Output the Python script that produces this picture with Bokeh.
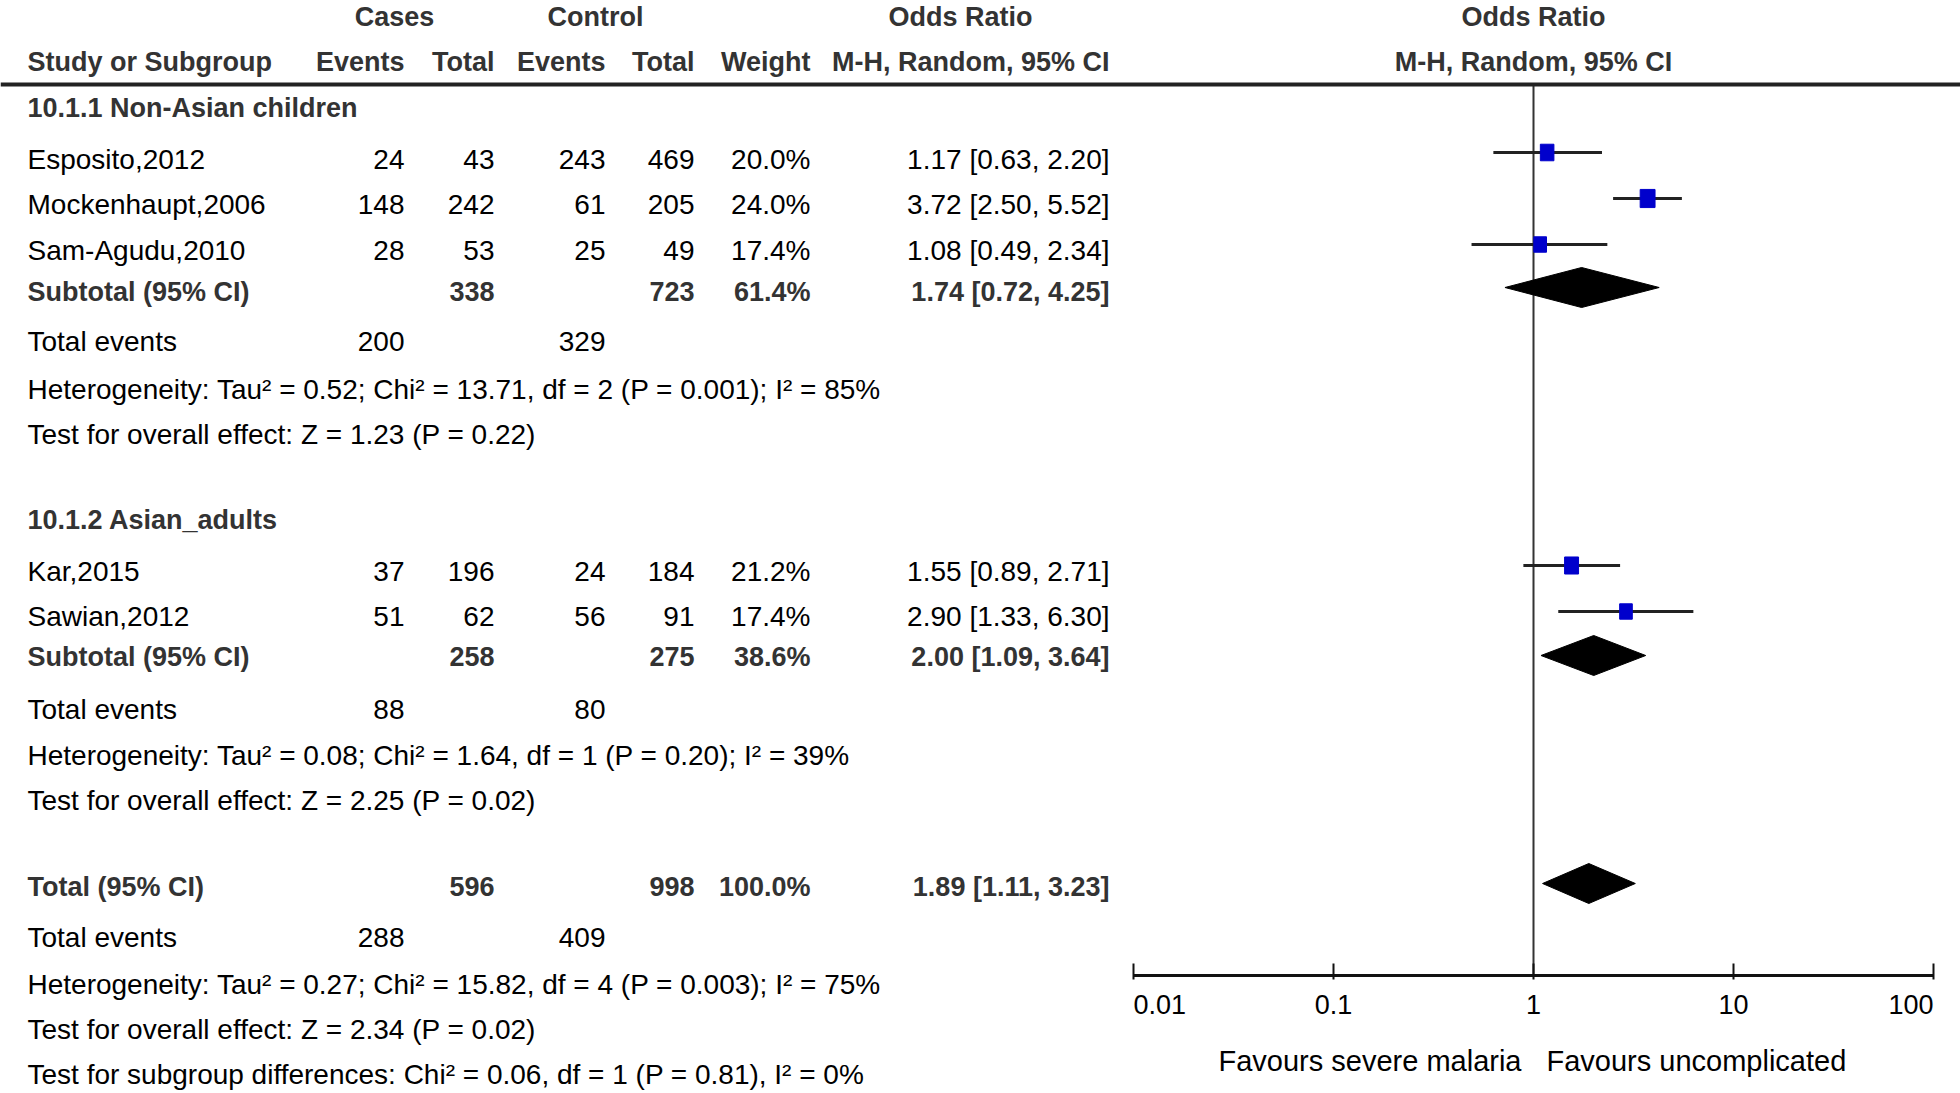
from bokeh.plotting import figure
from bokeh.models import Range1d, LinearScale, FixedTicker, Span
from bokeh.core.properties import value
from bokeh.embed import file_html
from bokeh.resources import INLINE

# ---------------- data ----------------
group_titles = ["10.1.1 Non-Asian children", "10.1.2 Asian_adults"]
studies = ["Esposito,2012", "Mockenhaupt,2006", "Sam-Agudu,2010", "Kar,2015", "Sawian,2012"]
cases_events = [24, 148, 28, 37, 51]
cases_total = [43, 242, 53, 196, 62]
control_events = [243, 61, 25, 24, 56]
control_total = [469, 205, 49, 184, 91]
weights = [20.0, 24.0, 17.4, 21.2, 17.4]
odds_ratio = [1.17, 3.72, 1.08, 1.55, 2.90]
ci_low = [0.63, 2.50, 0.49, 0.89, 1.33]
ci_high = [2.20, 5.52, 2.34, 2.71, 6.30]

summary_labels = ["Subtotal (95% CI)", "Subtotal (95% CI)", "Total (95% CI)"]
summary_cases_total = [338, 258, 596]
summary_control_total = [723, 275, 998]
summary_weight = [61.4, 38.6, 100.0]
summary_or = [1.74, 2.00, 1.89]
summary_low = [0.72, 1.09, 1.11]
summary_high = [4.25, 3.64, 3.23]
total_events_cases = [200, 88, 288]
total_events_control = [329, 80, 409]
heterogeneity = [
    "Heterogeneity: Tau² = 0.52; Chi² = 13.71, df = 2 (P = 0.001); I² = 85%",
    "Heterogeneity: Tau² = 0.08; Chi² = 1.64, df = 1 (P = 0.20); I² = 39%",
    "Heterogeneity: Tau² = 0.27; Chi² = 15.82, df = 4 (P = 0.003); I² = 75%",
]
overall_effect = [
    "Test for overall effect: Z = 1.23 (P = 0.22)",
    "Test for overall effect: Z = 2.25 (P = 0.02)",
    "Test for overall effect: Z = 2.34 (P = 0.02)",
]
subgroup_test = "Test for subgroup differences: Chi² = 0.06, df = 1 (P = 0.81), I² = 0%"
axis_ticks = [0.01, 0.1, 1, 10, 100]
axis_tick_labels = ["0.01", "0.1", "1", "10", "100"]
favours_left = "Favours severe malaria"
favours_right = "Favours uncomplicated"
null_effect = 1

# ---------------- layout (picture pixels) ----------------
W, H = 1960, 1093
OFF = 0
study_text_y = [159, 204, 250, 571, 616]
study_mark_y = [152, 198, 244, 565, 611]
summary_text_y = [291, 656, 886]
summary_mark_y = [287, 655, 883]
total_events_y = [341, 709, 937]
het_y = [389, 755, 984]
overall_y = [434, 800, 1029]
subgroup_y = 1074
group_title_y = [107, 519]
header1_y, header2_y = 16, 61
header_line_y = 84
axis_y = 975
tick_label_y = 1004
favours_y = 1060
diamond_half = 20

x_name = 27
x_ev1, x_tot1, x_ev2, x_tot2, x_wt, x_or = 404, 494, 605, 694, 810, 1109
x_cases, x_control, x_ortitle = 394, 595, 960

px_per_decade = 200.0
x_one = 1533
log_lo = (OFF - x_one) / px_per_decade
log_hi = (OFF + W - x_one) / px_per_decade

FONT = value("Liberation Sans")
NORMAL = "28px"
BOLD = "27px"
BOLD_COLOR = "#333333"

p = figure(width=W, height=H, output_backend="svg", toolbar_location=None,
           x_axis_type="log", x_range=Range1d(10 ** log_lo, 10 ** log_hi),
           y_range=Range1d(OFF + H, OFF),
           extra_x_ranges={"tab": Range1d(OFF, OFF + W)},
           extra_x_scales={"tab": LinearScale()},
           y_axis_location=None, min_border=0)
p.outline_line_color = None
p.xgrid.visible = False
p.ygrid.visible = False
p.background_fill_color = "white"

# axis: real log axis fixed at the axis row
ax = p.xaxis[0]
ax.fixed_location = axis_y
ax.bounds = (axis_ticks[0], axis_ticks[-1])
ax.ticker = FixedTicker(ticks=axis_ticks, minor_ticks=[])
ax.axis_line_width = 3
ax.axis_line_color = "#111111"
ax.major_tick_line_width = 2
ax.major_tick_line_color = "#111111"
ax.major_tick_in = 12
ax.major_tick_out = 4
ax.minor_tick_line_color = None
ax.major_label_text_color = None


def txt(x, y, t, align="left", bold=False, rng="tab", color=None, x_offset=0, size=None):
    kw = dict(x=x, y=y, text=t, text_align=align, text_baseline="middle",
              text_font=FONT,
              text_font_size=size or (BOLD if bold else NORMAL),
              text_font_style="bold" if bold else "normal",
              text_color=color or (BOLD_COLOR if bold else "black"),
              x_offset=x_offset)
    if rng == "tab":
        kw["x_range_name"] = "tab"
    p.text(**kw)


# header
txt([x_cases], [header1_y], ["Cases"], "center", True)
txt([x_control], [header1_y], ["Control"], "center", True)
txt([x_ortitle], [header1_y], ["Odds Ratio"], "center", True)
txt([null_effect], [header1_y], ["Odds Ratio"], "center", True, rng="main")
txt([x_name], [header2_y], ["Study or Subgroup"], "left", True)
txt([x_ev1, x_ev2], [header2_y] * 2, ["Events", "Events"], "right", True)
txt([x_tot1, x_tot2], [header2_y] * 2, ["Total", "Total"], "right", True)
txt([x_wt], [header2_y], ["Weight"], "right", True)
txt([x_or], [header2_y], ["M-H, Random, 95% CI"], "right", True)
txt([null_effect], [header2_y], ["M-H, Random, 95% CI"], "center", True, rng="main")

p.add_layout(Span(location=header_line_y, dimension="width", line_color="#222222", line_width=4))

# group titles
txt([x_name] * 2, group_title_y, group_titles, "left", True)

# study rows
n = len(studies)
txt([x_name] * n, study_text_y, studies, "left")
txt([x_ev1] * n, study_text_y, [str(v) for v in cases_events], "right")
txt([x_tot1] * n, study_text_y, [str(v) for v in cases_total], "right")
txt([x_ev2] * n, study_text_y, [str(v) for v in control_events], "right")
txt([x_tot2] * n, study_text_y, [str(v) for v in control_total], "right")
txt([x_wt] * n, study_text_y, [f"{w:.1f}%" for w in weights], "right")
txt([x_or] * n, study_text_y,
    [f"{o:.2f} [{l:.2f}, {h:.2f}]" for o, l, h in zip(odds_ratio, ci_low, ci_high)], "right")

# summary rows
m = len(summary_labels)
txt([x_name] * m, summary_text_y, summary_labels, "left", True)
txt([x_tot1] * m, summary_text_y, [str(v) for v in summary_cases_total], "right", True)
txt([x_tot2] * m, summary_text_y, [str(v) for v in summary_control_total], "right", True)
txt([x_wt] * m, summary_text_y, [f"{w:.1f}%" for w in summary_weight], "right", True)
txt([x_or] * m, summary_text_y,
    [f"{o:.2f} [{l:.2f}, {h:.2f}]" for o, l, h in zip(summary_or, summary_low, summary_high)],
    "right", True)

txt([x_name] * m, total_events_y, ["Total events"] * m, "left")
txt([x_ev1] * m, total_events_y, [str(v) for v in total_events_cases], "right")
txt([x_ev2] * m, total_events_y, [str(v) for v in total_events_control], "right")
txt([x_name] * m, het_y, heterogeneity, "left")
txt([x_name] * m, overall_y, overall_effect, "left")
txt([x_name], [subgroup_y], [subgroup_test], "left")

# forest plot: null line
p.segment(x0=[null_effect], x1=[null_effect], y0=[header_line_y], y1=[axis_y],
          line_color="#333333", line_width=2)

# whiskers and squares
p.segment(x0=ci_low, x1=ci_high, y0=study_mark_y, y1=study_mark_y,
          line_color="#222222", line_width=3)
sq_h = [3.7 * w ** 0.5 for w in weights]
sq_w = [0.82 * h for h in sq_h]
p.rect(x=odds_ratio, y=study_mark_y, width=sq_w, height=sq_h,
       width_units="screen", height_units="screen",
       fill_color="#0000CC", line_color="#0000CC")

# diamonds
xs = [[l, o, h, o] for o, l, h in zip(summary_or, summary_low, summary_high)]
ys = [[y, y - diamond_half, y, y + diamond_half] for y in summary_mark_y]
p.patches(xs=xs, ys=ys, fill_color="black", line_color="black", line_width=1)

# tick labels
aligns = ["left", "center", "center", "center", "right"]
for t, lab, a in zip(axis_ticks, axis_tick_labels, aligns):
    txt([t], [tick_label_y], [lab], a, rng="main", size="27px")

# favours labels
txt([null_effect], [favours_y], [favours_left], "right", rng="main", x_offset=-12, size="29px")
txt([null_effect], [favours_y], [favours_right], "left", rng="main", x_offset=13, size="29px")

open("out.html", "w").write(file_html(p, INLINE))
